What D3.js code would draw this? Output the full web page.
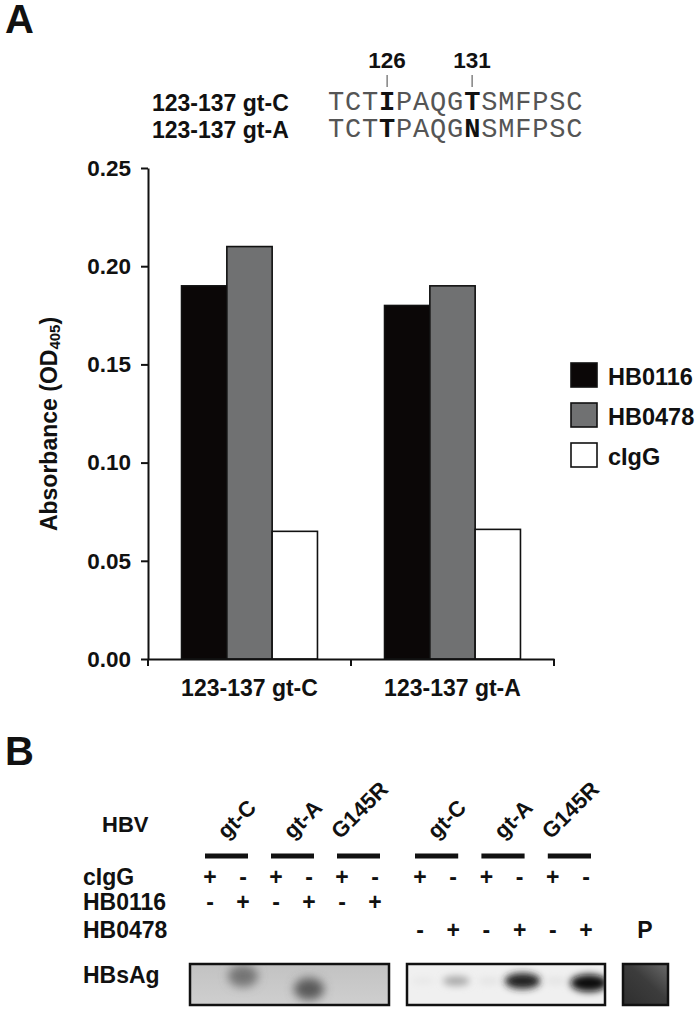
<!DOCTYPE html>
<html><head><meta charset="utf-8">
<script src="https://cdn.jsdelivr.net/npm/d3@7"></script>
<style>
body{margin:0;background:#fff}
svg{display:block}
text{font-family:"Liberation Sans",Arial,sans-serif;font-weight:bold;fill:#111}
</style></head><body>
<script>
// ---------- Data ----------
const categories = ["123-137 gt-C", "123-137 gt-A"];
const seriesNames = ["HB0116", "HB0478", "cIgG"];
const hb0116 = [0.19, 0.18];
const hb0478 = [0.21, 0.19];
const cigg = [0.065, 0.066];
const yTicks = [0.00, 0.05, 0.10, 0.15, 0.20, 0.25];
const seqLabels = ["123-137 gt-C", "123-137 gt-A"];
const sequences = ["TCTIPAQGTSMFPSC", "TCTTPAQGNSMFPSC"];
const boldPositions = [3, 8];
const positionLabels = ["126", "131"];

const hbvGroups = ["gt-C", "gt-A", "G145R", "gt-C", "gt-A", "G145R"];
const rowNames = ["cIgG", "HB0116", "HB0478"];
const cigRow = ["+", "-", "+", "-", "+", "-", "+", "-", "+", "-", "+", "-"];
const hb0116Row = ["-", "+", "-", "+", "-", "+", "", "", "", "", "", ""];
const hb0478Row = ["", "", "", "", "", "", "-", "+", "-", "+", "-", "+"];
const bandIntensity = [0.0, 0.42, 0.0, 0.55, 0.0, 0.0, 0.04, 0.3, 0.06, 0.85, 0.06, 0.95];
const bandShift = [0, -5, 0, 8, 0, 0, 0, 0, 0, 0, 0, 2];

const colors = {"HB0116": "#0b0707", "HB0478": "#707172", "cIgG": "#ffffff"};
const values = {"HB0116": hb0116, "HB0478": hb0478, "cIgG": cigg};

const W = 697, H = 1009;
const svg = d3.select("body").append("svg").attr("width", W).attr("height", H);
const defs = svg.append("defs");

// ---------- Panel A ----------
svg.append("text").attr("x", 5).attr("y", 33).attr("font-size", 40).text("A");

// Sequence header
const seqX0 = 328, charW = 17;
const seqRowY = d3.scalePoint().domain(d3.range(sequences.length)).range([110, 137]);
seqLabels.forEach((lab, r) => {
  svg.append("text").attr("x", 152).attr("y", seqRowY(r) + 1).attr("font-size", 23).text(lab);
  const t = svg.append("text").attr("x", seqX0).attr("y", seqRowY(r))
    .style("font-family", '"Liberation Mono","DejaVu Sans Mono",monospace')
    .attr("font-size", 27).attr("letter-spacing", 0.8);
  sequences[r].split("").forEach((c, i) => {
    const b = boldPositions.includes(i);
    t.append("tspan")
      .style("font-weight", b ? "bold" : "normal")
      .style("fill", b ? "#111" : "#555")
      .text(c);
  });
});
boldPositions.forEach((p, k) => {
  const cx = seqX0 + (p + 0.5) * charW - 0.4;
  svg.append("text").attr("x", cx).attr("y", 68).attr("text-anchor", "middle").attr("font-size", 22.5).text(positionLabels[k]);
  svg.append("line").attr("x1", cx).attr("x2", cx).attr("y1", 75).attr("y2", 87).attr("stroke", "#444").attr("stroke-width", 1);
});

// Chart
const y = d3.scaleLinear().domain([0, 0.25]).range([659, 168]);
const x0 = d3.scaleBand().domain(categories).range([148, 554]).paddingInner(0).paddingOuter(0);
const x1 = d3.scaleBand().domain(seriesNames).range([0, x0.bandwidth()]).paddingInner(0).paddingOuter(0.74);

const bars = svg.append("g");
categories.forEach((cat, ci) => {
  seriesNames.forEach(s => {
    const v = values[s][ci];
    bars.append("rect")
      .attr("x", x0(cat) + x1(s))
      .attr("y", y(v))
      .attr("width", x1.bandwidth())
      .attr("height", y(0) - y(v))
      .attr("fill", colors[s])
      .attr("stroke", "#111")
      .attr("stroke-width", 1.6);
  });
});

const yAxis = svg.append("g").attr("transform", "translate(148,0)")
  .call(d3.axisLeft(y).tickValues(yTicks).tickFormat(d3.format(".2f")).tickSize(7).tickSizeOuter(0).tickPadding(10));
yAxis.selectAll("path,line").attr("stroke", "#111").attr("stroke-width", 2);
yAxis.selectAll("text").attr("font-size", 22.5).style("font-family", '"Liberation Sans",Arial,sans-serif').style("font-weight", "bold").attr("fill", "#111");

const xAxis = svg.append("g").attr("transform", "translate(0,659)")
  .call(d3.axisBottom(x0).tickSize(0).tickPadding(21));
xAxis.select("path").attr("stroke", "#111").attr("stroke-width", 2);
xAxis.selectAll("text").attr("font-size", 23).style("font-family", '"Liberation Sans",Arial,sans-serif').style("font-weight", "bold").attr("fill", "#111");
const bounds = [x0(categories[0])].concat(categories.map(c => x0(c) + x0.bandwidth()));
xAxis.selectAll(".bt").data(bounds).enter().append("line")
  .attr("x1", d => d).attr("x2", d => d).attr("y1", 0).attr("y2", 7)
  .attr("stroke", "#111").attr("stroke-width", 2);

// y title
const yt = svg.append("text").attr("transform", "translate(57,424) rotate(-90)").attr("text-anchor", "middle").attr("font-size", 23);
yt.append("tspan").text("Absorbance (OD");
yt.append("tspan").attr("font-size", 15).attr("dy", 3).text("405");
yt.append("tspan").attr("dy", -3).text(")");

// legend
const leg = svg.append("g");
seriesNames.forEach((s, i) => {
  const gy = 363 + i * 40;
  leg.append("rect").attr("x", 571).attr("y", gy).attr("width", 26).attr("height", 24)
    .attr("fill", colors[s]).attr("stroke", "#111").attr("stroke-width", 1.6);
  leg.append("text").attr("x", 608).attr("y", gy + 22).attr("font-size", 23.5).text(s);
});

// ---------- Panel B ----------
svg.append("text").attr("x", 5).attr("y", 765).attr("font-size", 40).text("B");
svg.append("text").attr("x", 102).attr("y", 832).attr("font-size", 22).text("HBV");

const laneL = d3.scaleLinear().domain([0, 5]).range([210, 375]);
const laneR = d3.scaleLinear().domain([6, 11]).range([420, 586]);
const laneX = i => i < 6 ? laneL(i) : laneR(i);

hbvGroups.forEach((g, k) => {
  const a = laneX(2 * k), b = laneX(2 * k + 1);
  const cx = (a + b) / 2;
  svg.append("line").attr("x1", a - 5).attr("x2", b + 5).attr("y1", 856).attr("y2", 856)
    .attr("stroke", "#111").attr("stroke-width", 5);
  const t = svg.append("text").attr("font-size", 22).text(g);
  const L = t.node().getComputedTextLength() * Math.SQRT1_2;
  t.attr("transform", `translate(${cx + 31 - L},840) rotate(-45)`);
});

const rowY = [885, 910, 938];
const rows = [cigRow, hb0116Row, hb0478Row];
rowNames.forEach((n, r) => {
  svg.append("text").attr("x", 83).attr("y", rowY[r]).attr("font-size", 23).text(n);
  rows[r].forEach((s, i) => {
    if (!s) return;
    svg.append("text").attr("x", laneX(i)).attr("y", rowY[r]).attr("text-anchor", "middle")
      .attr("font-size", 23).text(s);
  });
});
svg.append("text").attr("x", 645).attr("y", 938).attr("text-anchor", "middle").attr("font-size", 23).text("P");
svg.append("text").attr("x", 83).attr("y", 983).attr("font-size", 23).text("HBsAg");

// blots
defs.append("filter").attr("id", "blur").attr("x", "-80%").attr("y", "-120%").attr("width", "260%").attr("height", "340%")
  .append("feGaussianBlur").attr("stdDeviation", 5);
defs.append("filter").attr("id", "blur2").attr("x", "-80%").attr("y", "-120%").attr("width", "260%").attr("height", "340%")
  .append("feGaussianBlur").attr("stdDeviation", 3.5);
defs.append("clipPath").attr("id", "clipL").append("rect").attr("x", 190).attr("y", 964).attr("width", 199).attr("height", 41);
defs.append("clipPath").attr("id", "clipR").append("rect").attr("x", 407).attr("y", 964).attr("width", 198).attr("height", 41);
const gradP = defs.append("linearGradient").attr("id", "gp").attr("x1", "1").attr("y1", "0").attr("x2", "0").attr("y2", "1");
gradP.append("stop").attr("offset", "0").attr("stop-color", "#6a6a6a");
gradP.append("stop").attr("offset", "0.45").attr("stop-color", "#3c3c3c");
gradP.append("stop").attr("offset", "1").attr("stop-color", "#2e2e2e");
const gradL = defs.append("linearGradient").attr("id", "gl").attr("x1", "0").attr("y1", "0").attr("x2", "0").attr("y2", "1");
gradL.append("stop").attr("offset", "0").attr("stop-color", "#c2c2c2");
gradL.append("stop").attr("offset", "1").attr("stop-color", "#cfcfcf");

const boxL = svg.append("g").attr("clip-path", "url(#clipL)");
boxL.append("rect").attr("x", 190).attr("y", 964).attr("width", 199).attr("height", 41).attr("fill", "url(#gl)");
const boxR = svg.append("g").attr("clip-path", "url(#clipR)");
boxR.append("rect").attr("x", 407).attr("y", 964).attr("width", 198).attr("height", 41).attr("fill", "#f0f0f0");

bandIntensity.forEach((v, i) => {
  if (v <= 0) return;
  const left = i < 6;
  const g = left ? boxL : boxR;
  const base = left ? "#c8c8c8" : "#f0f0f0";
  const col = d3.interpolateRgb(base, "#000")(v);
  g.append("ellipse").attr("cx", laneX(i) + (left ? 0 : 3)).attr("cy", 981 + bandShift[i])
    .attr("rx", left ? 15 : 11 + 8 * v).attr("ry", left ? 11 : 3 + 6 * v)
    .attr("fill", col).attr("filter", left ? "url(#blur)" : "url(#blur2)");
});
svg.append("rect").attr("x", 190).attr("y", 964).attr("width", 199).attr("height", 41)
  .attr("fill", "none").attr("stroke", "#111").attr("stroke-width", 2.5);
svg.append("rect").attr("x", 407).attr("y", 964).attr("width", 198).attr("height", 41)
  .attr("fill", "none").attr("stroke", "#111").attr("stroke-width", 2.5);
svg.append("rect").attr("x", 623).attr("y", 964).attr("width", 45).attr("height", 41)
  .attr("fill", "url(#gp)").attr("stroke", "#111").attr("stroke-width", 2.5);
</script>
</body></html>
